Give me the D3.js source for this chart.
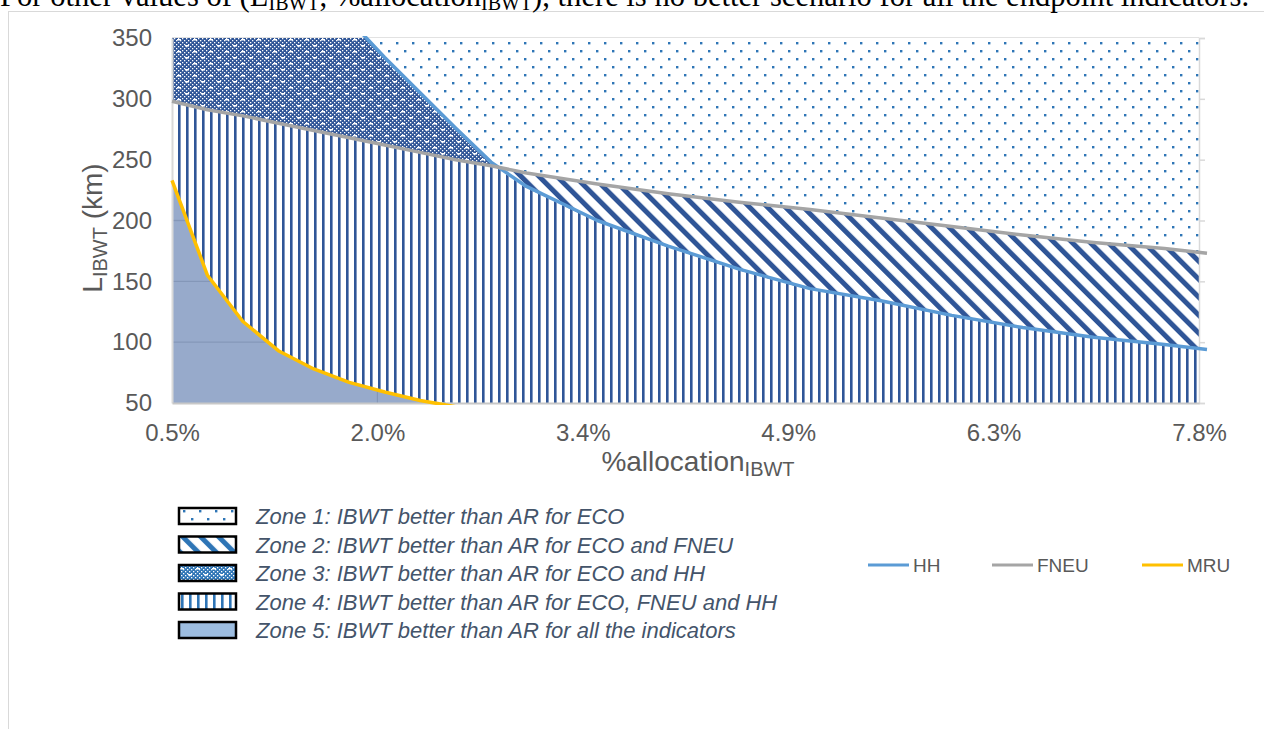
<!DOCTYPE html>
<html>
<head>
<meta charset="utf-8">
<script src="https://cdn.jsdelivr.net/npm/d3@7"></script>
<style>
    body { margin: 0; background: #fff; overflow: hidden; }
</style>
</head>
<body>
<div id="container"></div>
<script>
// %allocation_IBWT values where the curves were read
var allocation = [0.5, 0.75, 1.0, 1.25, 1.5, 1.75, 2.0, 2.25, 2.5, 2.75, 3.0, 3.5, 4.0, 4.5, 5.0, 5.5, 6.0, 6.5, 7.0, 7.5, 7.8]
// L_IBWT (km) limits for each endpoint indicator (HH goes off the chart on the left)
var hh = [1300, 880, 660, 530, 440, 365, 334, 305, 276, 248, 228, 200, 179, 160, 144, 134, 122, 112, 104, 98, 94]
var fneu = [298, 291, 286, 280, 274, 268, 262, 256, 250, 245, 239, 230, 222, 215, 209, 202, 195, 188, 182, 177, 173]
var mru = [233, 155, 117, 93, 78, 67, 59, 52, 47, 43, null, null, null, null, null, null, null, null, null, null, null]

var xTicks = [0.5, 1.96, 3.42, 4.88, 6.34, 7.8]
var yTicks = [50, 100, 150, 200, 250, 300, 350]

var zoneLabels = [
    'Zone 1: IBWT better than AR for ECO',
    'Zone 2: IBWT better than AR for ECO and FNEU',
    'Zone 3: IBWT better than AR for ECO and HH',
    'Zone 4: IBWT better than AR for ECO, FNEU and HH',
    'Zone 5: IBWT better than AR for all the indicators'
]
var lineNames = ['HH', 'FNEU', 'MRU']
var lineColors = { HH: '#5b9bd5', FNEU: '#a5a5a5', MRU: '#ffc000' }

var rows = allocation.map(function(a, i) {
    return { a: a, HH: hh[i], FNEU: fneu[i], MRU: mru[i] }
})

var W = 1264, H = 729
var svg = d3.select('#container').append('svg')
    .attr('width', W).attr('height', H)
    .style('font-family', "'Liberation Sans', Arial, sans-serif")

var x = d3.scaleLinear().domain([0.5, 7.8]).range([172, 1199])
var xl = d3.scaleLinear().domain([0.5, 7.8]).range([172, 1207]) // lines run a bit past the area
var y = d3.scaleLinear().domain([50, 350]).range([403, 38])

var navy = '#2f5597', lightBlue = '#2e75b6'
var defs = svg.append('defs')

// fill patterns, one set for the plot and a lighter set for the legend
function makePatterns(suffix, col, dotCol) {
    var p = defs.append('pattern').attr('id', 'dots' + suffix)
        .attr('patternUnits', 'userSpaceOnUse').attr('width', 16).attr('height', 16)
    p.append('rect').attr('width', 16).attr('height', 16).attr('fill', '#fff')
    p.append('rect').attr('x', 4).attr('y', 2).attr('width', 2.4).attr('height', 2.4).attr('fill', dotCol)
    p.append('rect').attr('x', 12).attr('y', 10).attr('width', 2.4).attr('height', 2.4).attr('fill', dotCol)

    p = defs.append('pattern').attr('id', 'diag' + suffix)
        .attr('patternUnits', 'userSpaceOnUse').attr('width', 12.7).attr('height', 12.7)
        .attr('patternTransform', 'rotate(-45)')
    p.append('rect').attr('width', 12.7).attr('height', 12.7).attr('fill', '#fff')
    p.append('rect').attr('width', 5).attr('height', 12.7).attr('fill', col)

    // fine checker with a grid of small white dashes
    p = defs.append('pattern').attr('id', 'chk' + suffix)
        .attr('patternUnits', 'userSpaceOnUse').attr('width', 16).attr('height', 12)
    p.append('rect').attr('width', 16).attr('height', 12).attr('fill', col)
    for (var i = 0; i < 8; i++) {
        for (var j = 0; j < 6; j++) {
            if ((i + j) % 2 == 0) {
                p.append('rect').attr('x', i * 2).attr('y', j * 2)
                    .attr('width', 1.3).attr('height', 1.3).attr('fill', '#fff')
            }
        }
    }
    p.append('rect').attr('x', 1).attr('y', 3).attr('width', 4).attr('height', 1.5).attr('fill', '#fff')
    p.append('rect').attr('x', 9).attr('y', 9).attr('width', 4).attr('height', 1.5).attr('fill', '#fff')

    p = defs.append('pattern').attr('id', 'vert' + suffix)
        .attr('patternUnits', 'userSpaceOnUse').attr('width', 8).attr('height', 8)
    p.append('rect').attr('width', 8).attr('height', 8).attr('fill', '#fff')
    p.append('rect').attr('x', 2).attr('width', 2.6).attr('height', 8).attr('fill', col)
}
makePatterns('', navy, lightBlue)
makePatterns('L', lightBlue, lightBlue)

defs.append('clipPath').attr('id', 'plotClip').append('rect')
    .attr('x', 172).attr('y', 38).attr('width', 1199 - 172).attr('height', 403 - 38)
defs.append('clipPath').attr('id', 'lineClip').append('rect')
    .attr('x', 150).attr('y', 36).attr('width', 1080).attr('height', 369)

var base = function(d) { return d.MRU == null ? 50 : Math.max(d.MRU, 50) }
var areaTo = function(key) {
    return d3.area()
        .x(function(d) { return x(d.a) })
        .y0(function(d) { return y(base(d)) })
        .y1(function(d) { return y(typeof key == 'number' ? key : d[key]) })
}
defs.append('clipPath').attr('id', 'belowFneu').append('path')
    .attr('d', d3.area().x(function(d) { return x(d.a) }).y0(y(50))
        .y1(function(d) { return y(d.FNEU) })(rows))

// outer chart frame
svg.append('rect').attr('x', 8.5).attr('y', 11.5).attr('width', 1300).attr('height', 800)
    .attr('fill', 'none').attr('stroke', '#d9d9d9')

// gridlines
svg.append('g').selectAll('line').data(yTicks.slice(1)).enter().append('line')
    .attr('x1', 172).attr('x2', 1199)
    .attr('y1', function(d) { return y(d) }).attr('y2', function(d) { return y(d) })
    .attr('stroke', '#d9d9d9').attr('stroke-width', 1.3)
svg.append('g').selectAll('line').data(xTicks.slice(1, -1)).enter().append('line')
    .attr('x1', function(d) { return x(d) }).attr('x2', function(d) { return x(d) })
    .attr('y1', 38).attr('y2', 403)
    .attr('stroke', '#d9d9d9').attr('stroke-width', 1.3)

// zones, painted back to front
var zones = svg.append('g').attr('clip-path', 'url(#plotClip)')
zones.append('path').attr('d', areaTo(350)(rows)).attr('fill', 'url(#dots)')
zones.append('path').attr('d', areaTo('HH')(rows)).attr('fill', 'url(#chk)')
zones.append('path').attr('d', areaTo('FNEU')(rows)).attr('fill', 'url(#diag)')
zones.append('g').attr('clip-path', 'url(#belowFneu)')
    .append('path').attr('d', areaTo('HH')(rows)).attr('fill', 'url(#vert)')
zones.append('path')
    .attr('d', d3.area()
        .defined(function(d) { return d.MRU != null })
        .x(function(d) { return x(d.a) }).y0(y(50))
        .y1(function(d) { return y(d.MRU) })(rows))
    .attr('fill', navy).attr('fill-opacity', 0.5)

// axes
var yAxis = svg.append('g').attr('transform', 'translate(172,0)')
    .call(d3.axisLeft(y).tickValues(yTicks).tickSize(0).tickPadding(20))
yAxis.select('.domain').attr('stroke', '#d9d9d9').attr('stroke-width', 2)
yAxis.selectAll('text').attr('font-size', 24).attr('fill', '#595959')

var rAxis = svg.append('g').attr('transform', 'translate(1199,0)')
    .call(d3.axisRight(y).tickValues(yTicks).tickSize(6).tickFormat(''))
rAxis.selectAll('path,line').attr('stroke', '#d9d9d9').attr('stroke-width', 1.5)

var xAxis = svg.append('g').attr('transform', 'translate(0,403)')
    .call(d3.axisBottom(x).tickValues(xTicks).tickSize(0).tickPadding(21)
        .tickFormat(function(d) { return d3.format('.1f')(d) + '%' }))
xAxis.select('.domain').attr('stroke', '#c8c8c8').attr('stroke-width', 2)
xAxis.selectAll('text').attr('font-size', 24).attr('fill', '#595959')

// curves
var lines = svg.append('g').attr('clip-path', 'url(#lineClip)')
lineNames.forEach(function(name) {
    lines.append('path')
        .attr('d', d3.line()
            .defined(function(d) { return d[name] != null })
            .x(function(d) { return xl(d.a) })
            .y(function(d) { return y(d[name]) })(rows))
        .attr('fill', 'none').attr('stroke', lineColors[name])
        .attr('stroke-width', 3.5).attr('stroke-linejoin', 'round')
})

// axis titles
var xt = svg.append('text').attr('x', 698).attr('y', 471).attr('text-anchor', 'middle')
    .attr('font-size', 28).attr('fill', '#595959')
xt.append('tspan').text('%allocation')
xt.append('tspan').attr('font-size', 20).attr('dy', 5).text('IBWT')

var yt = svg.append('text').attr('transform', 'translate(102,228) rotate(-90)')
    .attr('text-anchor', 'middle').attr('font-size', 28).attr('fill', '#595959')
yt.append('tspan').text('L')
yt.append('tspan').attr('font-size', 20).attr('dy', 5).text('IBWT')
yt.append('tspan').attr('dy', -5).text(' (km)')

// zone legend
var zoneFills = ['url(#dotsL)', 'url(#diagL)', 'url(#chkL)', 'url(#vertL)', '#9dbde0']
var zl = svg.append('g').selectAll('g').data(zoneLabels).enter().append('g')
    .attr('transform', function(d, i) { return 'translate(179,' + (508 + i * 28.5) + ')' })
zl.append('rect').attr('width', 57).attr('height', 16)
    .attr('fill', function(d, i) { return zoneFills[i] })
    .attr('stroke', '#000').attr('stroke-width', 2.5)
zl.append('text').attr('x', 77).attr('y', 16)
    .attr('font-size', 22).attr('font-style', 'italic').attr('fill', '#44546a')
    .text(function(d) { return d })

// line legend
var legX = [868, 992, 1142]
var ll = svg.append('g').selectAll('g').data(lineNames).enter().append('g')
    .attr('transform', function(d, i) { return 'translate(' + legX[i] + ',565)' })
ll.append('line').attr('x1', 0).attr('x2', 41)
    .attr('stroke', function(d) { return lineColors[d] }).attr('stroke-width', 3)
ll.append('text').attr('x', 45).attr('y', 7).attr('font-size', 19).attr('fill', '#595959')
    .text(function(d) { return d })

// sentence above the chart (cut by the top of the picture)
var note = svg.append('text').attr('x', 0).attr('y', 6)
    .style('font-family', "'Liberation Serif', 'Times New Roman', serif")
    .attr('font-size', 30.6).attr('fill', '#000')
note.append('tspan').text('For other values of (L')
note.append('tspan').attr('font-size', 20).attr('dy', 4).text('IBWT')
note.append('tspan').attr('dy', -4).text(', %allocation')
note.append('tspan').attr('font-size', 20).attr('dy', 4).text('IBWT')
note.append('tspan').attr('dy', -4).text('), there is no better scenario for all the endpoint indicators.')
</script>
</body>
</html>
